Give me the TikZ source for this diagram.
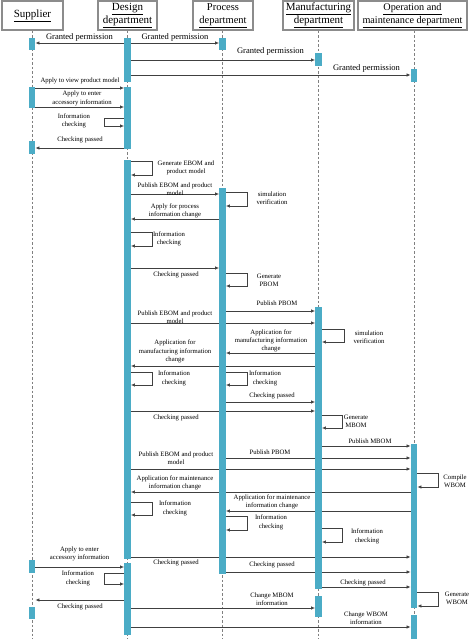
\documentclass[tikz,border=0pt]{standalone}
\usepackage{fontspec}
\setmainfont{Liberation Serif}
\usetikzlibrary{arrows.meta}
\definecolor{barc}{HTML}{4BACC6}
\definecolor{arc}{HTML}{404040}
\definecolor{boxc}{HTML}{8C8C8C}
\pgfdeclarelayer{bg}
\pgfsetlayers{bg,main}
\newcommand\abar[4]{\node[actbar, minimum height={(#4)-(#3)}] (#1) at (#2,{((#3)+(#4))/2}) {};}
\newcommand\msgR[3]{\draw[msg] (#1.east |- 0,#3) -- (#2.west |- 0,#3);}
\newcommand\msgL[3]{\draw[msg] (#1.west |- 0,#3) -- (#2.east |- 0,#3);}
\newcommand\selfR[4]{\draw[msg] (#1.east |- 0,#2) -- ++(#4,0) |- (#1.east |- 0,#3);}
\newcommand\selfL[4]{\draw[msg] (#1.west |- 0,#2) -- ++(-#4,0) |- (#1.west |- 0,#3);}
\begin{document}
\begin{tikzpicture}[x=1pt,y=-1pt,
  hdr/.style={draw=boxc, line width=1.3pt, fill=white, align=center, inner sep=0},
  life/.style={draw=gray, dash pattern=on 2.5pt off 2pt, line width=0.6pt},
  actbar/.style={fill=barc, draw=none, minimum width=6.5pt, inner sep=0},
  msg/.style={draw=arc, line width=0.7pt, -{Latex[length=4pt,width=3.5pt]}},
  lbl/.style={font=\fontsize{6.7}{8.3}\selectfont, align=center, inner sep=0},
  glbl/.style={font=\fontsize{8.5}{10}\selectfont, inner sep=0}]
\useasboundingbox (0,0) rectangle (474,639);
% headers
\node[hdr, minimum width=61pt, minimum height=29pt, font=\fontsize{11}{13}\selectfont] (hS) at (32.5,15.5) {\underline{Supplier}};
\node[hdr, minimum width=59pt, minimum height=29pt, font=\fontsize{11}{13}\selectfont] (hD) at (127.5,15.5) {\underline{Design}\\\underline{department}};
\node[hdr, minimum width=60pt, minimum height=29pt, font=\fontsize{10.5}{13}\selectfont] (hP) at (223,15.5) {Process\\\underline{department}};
\node[hdr, minimum width=71pt, minimum height=29pt, font=\fontsize{11}{13}\selectfont] (hM) at (318.5,15.5) {\underline{Manufacturing}\\\underline{department}};
\node[hdr, minimum width=109pt, minimum height=29pt, font=\fontsize{10.2}{13}\selectfont] (hO) at (412.5,15.5) {\underline{Operation and}\\\underline{maintenance department}};
% lifeline x
\coordinate (xS) at (32,0);
\coordinate (xD) at (127.5,0);
\coordinate (xP) at (222.5,0);
\coordinate (xM) at (318.5,0);
\coordinate (xO) at (414,0);
% activation bars
\abar{S1}{32}{38}{50}
\abar{S2}{32}{87}{108}
\abar{S3}{32}{141}{154}
\abar{S4}{32}{560}{573}
\abar{S5}{32}{607}{619}
\abar{D1}{127.5}{38}{82}
\abar{D2}{127.5}{87}{149}
\abar{D3}{127.5}{160}{559}
\abar{D4}{127.5}{563}{635}
\abar{P1}{222.5}{38}{50}
\abar{P2}{222.5}{188}{574}
\abar{M1}{318.5}{53}{66}
\abar{M2}{318.5}{307}{589}
\abar{M3}{318.5}{596}{617}
\abar{O1}{414}{69}{82}
\abar{O2}{414}{444}{608}
\abar{O3}{414}{615}{639}
\begin{pgfonlayer}{bg}
\draw[life] (xS |- hS.south) -- (xS |- 0,639);
\draw[life] (xD |- hD.south) -- (xD |- 0,639);
\draw[life] (xP |- hP.south) -- (xP |- 0,639);
\draw[life] (xM |- hM.south) -- (xM |- 0,639);
\draw[life] (xO |- hO.south) -- (xO |- 0,639);
% messages
\msgL{D1}{S1}{43}
\msgR{D1}{P1}{43}
\msgR{D1}{M1}{60}
\msgR{D1}{O1}{75}
\msgR{S2}{D2}{88}
\msgR{S2}{D2}{107}
\msgL{D2}{S3}{148}
\msgR{D3}{P2}{194}
\msgL{P2}{D3}{219}
\msgR{D3}{P2}{268}
\msgR{P2}{M2}{311}
\msgR{D3}{M2}{323}
\msgL{M2}{P2}{353}
\msgL{M2}{D3}{366}
\msgR{P2}{M2}{402}
\msgR{D3}{M2}{411}
\msgR{M2}{O2}{446}
\msgR{P2}{O2}{458}
\msgR{D3}{O2}{469}
\msgL{O2}{D3}{492}
\msgL{O2}{P2}{511}
\msgR{D3}{O2}{557}
\msgR{S4}{D4}{567}
\msgR{P2}{O2}{572}
\msgR{M2}{O2}{587}
\msgL{D4}{S5}{600}
\msgR{D4}{M3}{608}
\msgR{D4}{O3}{627}
% self loops
\selfL{D2}{118}{126}{20}
\selfR{D3}{161}{175}{21}
\selfR{P2}{192}{206}{21}
\selfR{D3}{232}{246}{21}
\selfR{P2}{273}{286}{21}
\selfR{M2}{329}{342}{22}
\selfR{D3}{372}{385}{21}
\selfR{P2}{372}{385}{21}
\selfR{M2}{415}{428}{20}
\selfR{O2}{473}{487}{21}
\selfR{D3}{502}{515}{21}
\selfR{P2}{516}{530}{21}
\selfR{M2}{528}{542}{20}
\selfL{D4}{573}{584}{20}
\selfR{O2}{592}{606}{21}
\end{pgfonlayer}
% labels
\node[glbl] (l1) at (79.5,37) {Granted permission};
\node[glbl] (l2) at (175,37) {Granted permission};
\node[glbl] (l3) at (270.5,51) {Granted permission};
\node[glbl] (l4) at (366.5,68) {Granted permission};
\node[lbl] (l5) at (80,80.5) {Apply to view product model};
\node[lbl] (l6) at (82,98.5) {Apply to enter\\accessory information};
\node[lbl] (l7) at (74,121) {Information\\checking};
\node[lbl] (l8) at (80,140) {Checking passed};
\node[lbl] (l9) at (186,168) {Generate EBOM and\\product model};
\node[lbl] (l10) at (175,189) {Publish EBOM and product\\model};
\node[lbl] (l11) at (272,198.5) {simulation\\verification};
\node[lbl] (l12) at (175,211) {Apply for process\\information change};
\node[lbl] (l13) at (169,239) {Information\\checking};
\node[lbl] (l14) at (176,275) {Checking passed};
\node[lbl] (l15) at (269,280) {Generate\\PBOM};
\node[lbl] (l16) at (277,303) {Publish PBOM};
\node[lbl] (l17) at (175,317) {Publish EBOM and product\\model};
\node[lbl] (l18) at (369,337) {simulation\\verification};
\node[lbl] (l19) at (271,341) {Application for\\manufacturing information\\change};
\node[lbl] (l20) at (175,351.5) {Application for\\manufacturing information\\change};
\node[lbl] (l21) at (174,378.5) {Information\\checking};
\node[lbl] (l22) at (265,378.5) {Information\\checking};
\node[lbl] (l23) at (272,396) {Checking passed};
\node[lbl] (l24) at (176,418) {Checking passed};
\node[lbl] (l25) at (356,421) {Generate\\MBOM};
\node[lbl] (l26) at (370,441) {Publish MBOM};
\node[lbl] (l27) at (270,452) {Publish PBOM};
\node[lbl] (l28) at (176,458) {Publish EBOM and product\\model};
\node[lbl] (l29) at (455,481.5) {Compile\\WBOM};
\node[lbl] (l30) at (175,483) {Application for maintenance\\information change};
\node[lbl] (l31) at (272,502) {Application for maintenance\\information change};
\node[lbl] (l32) at (175,508.5) {Information\\checking};
\node[lbl] (l33) at (271,522.5) {Information\\checking};
\node[lbl] (l34) at (367,536.5) {Information\\checking};
\node[lbl] (l35) at (176,563) {Checking passed};
\node[lbl] (l36) at (79.5,554) {Apply to enter\\accessory information};
\node[lbl] (l37) at (272,565) {Checking passed};
\node[lbl] (l38) at (78,578.5) {Information\\checking};
\node[lbl] (l39) at (363,583) {Checking passed};
\node[lbl] (l40) at (457,598.5) {Generate\\WBOM};
\node[lbl] (l41) at (80,607) {Checking passed};
\node[lbl] (l42) at (272,599) {Change MBOM\\information};
\node[lbl] (l43) at (366,618.5) {Change WBOM\\information};
\end{tikzpicture}
\end{document}
